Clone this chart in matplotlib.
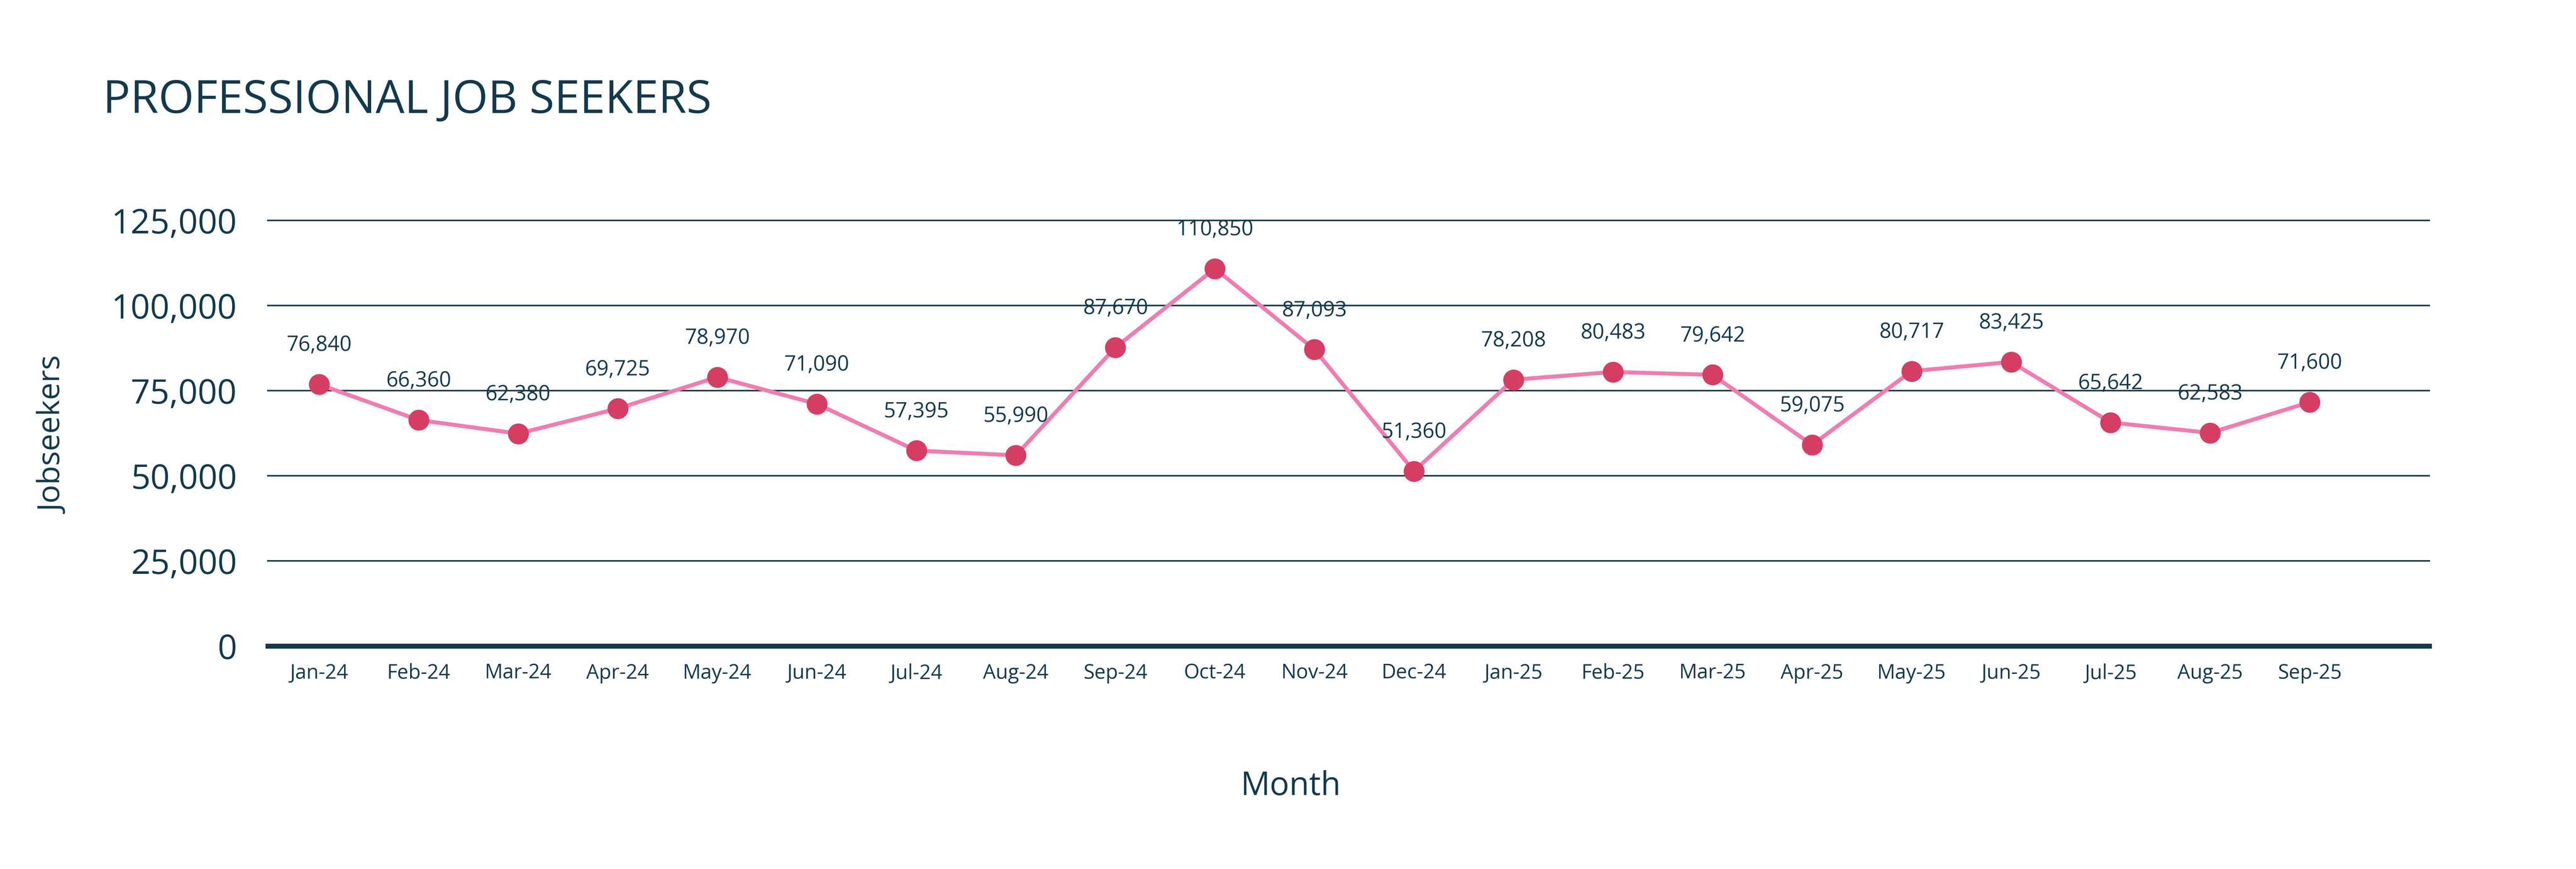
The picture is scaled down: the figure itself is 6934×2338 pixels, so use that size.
import matplotlib
matplotlib.use('Agg')
import matplotlib.pyplot as plt
from matplotlib.ticker import FuncFormatter

months = ['Jan-24', 'Feb-24', 'Mar-24', 'Apr-24', 'May-24', 'Jun-24', 'Jul-24',
          'Aug-24', 'Sep-24', 'Oct-24', 'Nov-24', 'Dec-24', 'Jan-25', 'Feb-25',
          'Mar-25', 'Apr-25', 'May-25', 'Jun-25', 'Jul-25', 'Aug-25', 'Sep-25']
jobseekers = [76840, 66360, 62380, 69725, 78970, 71090, 57395,
              55990, 87670, 110850, 87093, 51360, 78208, 80483,
              79642, 59075, 80717, 83425, 65642, 62583, 71600]
y_ticks = [0, 25000, 50000, 75000, 100000, 125000]

navy = '#12394D'
pink = '#EE7DB1'
red = '#D63D63'

plt.rcParams['font.family'] = ['Open Sans', 'DejaVu Sans']

DPI = 300
fig = plt.figure(figsize=(6934 / DPI, 2338 / DPI), dpi=DPI)
ax = fig.add_axes([0.104, 0.2566, 0.839, 0.4898])

x = list(range(len(months)))
ax.plot(x, jobseekers, color=pink, lw=2.6, zorder=3)
ax.plot(x, jobseekers, 'o', color=red, ms=12.5, mec=red, zorder=4)

for xi, v in zip(x, jobseekers):
    ax.annotate(f'{v:,}', (xi, v), xytext=(0, 25), textcoords='offset points',
                ha='center', va='center', fontsize=13.5, color=navy)

ax.set_xlim(-0.515, 21.2)
ax.set_ylim(0, 125000)
ax.set_yticks(y_ticks)
ax.yaxis.set_major_formatter(FuncFormatter(lambda v, p: f'{int(v):,}'))
ax.set_xticks(x)
ax.set_xticklabels(months)

for s in ax.spines.values():
    s.set_visible(False)
for t in y_ticks[1:]:
    ax.axhline(t, color=navy, lw=1.0, zorder=1, clip_on=False)
ax.axhline(0, color=navy, lw=3.2, zorder=2, clip_on=False)

ax.tick_params(axis='y', length=0, pad=20, labelsize=22, labelcolor=navy)
ax.tick_params(axis='x', length=0, pad=11, labelsize=13, labelcolor=navy)

fig.text(0.040, 0.870, 'PROFESSIONAL JOB SEEKERS', fontsize=29.5, color=navy,
         ha='left', va='baseline')
fig.text(0.021, 0.499, 'Jobseekers', rotation=90, fontsize=20, color=navy,
         ha='center', va='center')
fig.text(0.501, 0.095, 'Month', fontsize=21, color=navy, ha='center', va='center')

fig.savefig('out.png', dpi=DPI, facecolor='white')
